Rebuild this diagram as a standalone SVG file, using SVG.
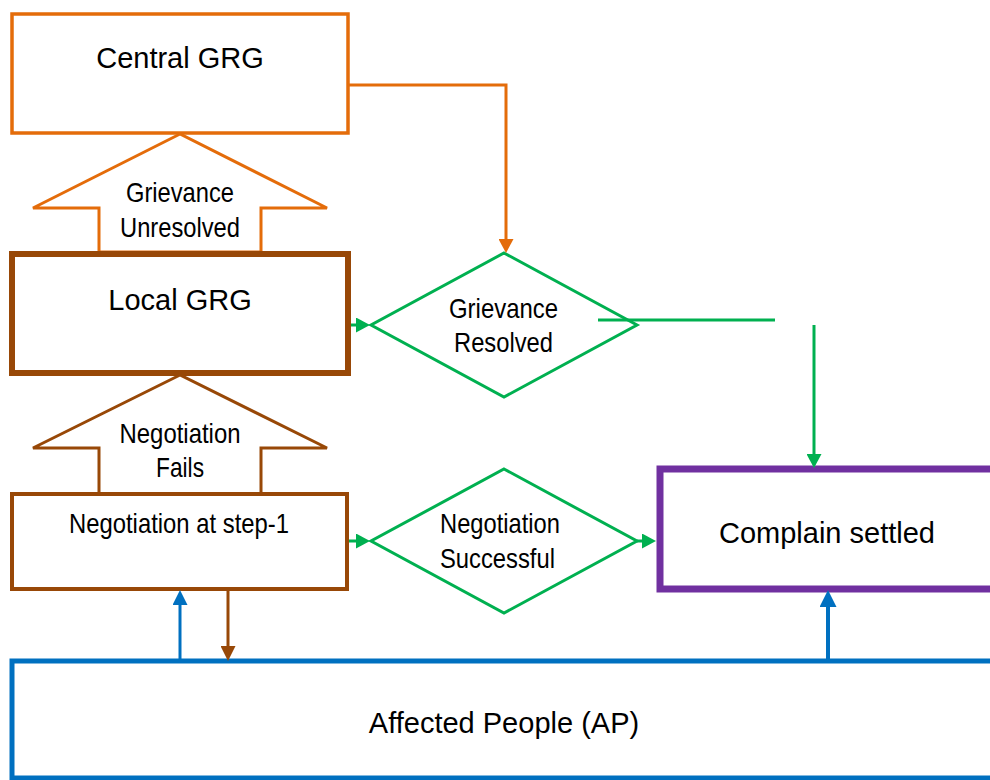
<svg xmlns="http://www.w3.org/2000/svg" width="990" height="780" viewBox="0 0 990 780">
<defs>
<style>
.big{font-family:"Liberation Sans",Arial,sans-serif;font-size:29px;fill:#000;text-anchor:middle}
.nar{font-family:"Liberation Sans",Arial,sans-serif;font-size:28px;fill:#000;text-anchor:middle}
.box{fill:#fff}
.ln{fill:none}
</style>
<marker id="mG" markerUnits="userSpaceOnUse" markerWidth="14" markerHeight="15" refX="4" refY="7.5" orient="auto" viewBox="0 0 14 15"><path d="M0,0 L14,7.5 L0,15 z" fill="#00B050"/></marker>
<marker id="mO" markerUnits="userSpaceOnUse" markerWidth="14" markerHeight="15" refX="4" refY="7.5" orient="auto" viewBox="0 0 14 15"><path d="M0,0 L14,7.5 L0,15 z" fill="#E46C0A"/></marker>
<marker id="mBr" markerUnits="userSpaceOnUse" markerWidth="15" markerHeight="15" refX="4" refY="7.5" orient="auto" viewBox="0 0 15 15"><path d="M0,0 L15,7.5 L0,15 z" fill="#984807"/></marker>
<marker id="mB" markerUnits="userSpaceOnUse" markerWidth="15" markerHeight="15" refX="4" refY="7.5" orient="auto" viewBox="0 0 15 15"><path d="M0,0 L15,7.5 L0,15 z" fill="#0070C0"/></marker>
<marker id="mB2" markerUnits="userSpaceOnUse" markerWidth="17" markerHeight="17" refX="6" refY="8.5" orient="auto" viewBox="0 0 17 17"><path d="M0,0 L17,8.5 L0,17 z" fill="#0070C0"/></marker>
</defs>

<g id="arrow-unresolved">
<polygon class="box" points="180,134 33,208 99,208 99,252 261,252 261,208 327,208" stroke="#E46C0A" stroke-width="3"/>
<text class="nar" x="180" y="202" textLength="108" lengthAdjust="spacingAndGlyphs">Grievance</text>
<text class="nar" x="180" y="237" textLength="120" lengthAdjust="spacingAndGlyphs">Unresolved</text>
</g>

<g id="arrow-fails">
<polygon class="box" points="180,375 33,448 99,448 99,494 261,494 261,448 327,448" stroke="#984807" stroke-width="3"/>
<text class="nar" x="180" y="443" textLength="121" lengthAdjust="spacingAndGlyphs">Negotiation</text>
<text class="nar" x="180" y="477" textLength="48" lengthAdjust="spacingAndGlyphs">Fails</text>
</g>

<g id="central-grg">
<rect class="box" x="12" y="14" width="336" height="119" stroke="#E46C0A" stroke-width="3.5"/>
<text class="big" x="180" y="68">Central GRG</text>
</g>

<g id="local-grg">
<rect class="box" x="12" y="254" width="336" height="119" stroke="#984807" stroke-width="6"/>
<text class="big" x="180" y="310">Local GRG</text>
</g>

<g id="negotiation-step1">
<rect class="box" x="12" y="494" width="335" height="95" stroke="#984807" stroke-width="4"/>
<text class="nar" x="179" y="533" textLength="220" lengthAdjust="spacingAndGlyphs">Negotiation at step-1</text>
</g>

<g id="grievance-resolved">
<polygon class="box" points="504,253 637,325 504,397 371,325" stroke="#00B050" stroke-width="3"/>
<text class="nar" x="503.5" y="318" textLength="109" lengthAdjust="spacingAndGlyphs">Grievance</text>
<text class="nar" x="503.5" y="352" textLength="99" lengthAdjust="spacingAndGlyphs">Resolved</text>
</g>

<g id="negotiation-successful">
<polygon class="box" points="504,469 637,541 504,613 371,541" stroke="#00B050" stroke-width="3"/>
<text class="nar" x="500" y="533" textLength="120" lengthAdjust="spacingAndGlyphs">Negotiation</text>
<text class="nar" x="497.5" y="568" textLength="115" lengthAdjust="spacingAndGlyphs">Successful</text>
</g>

<g id="complain-settled">
<rect class="box" x="660" y="469" width="400" height="120" stroke="#7030A0" stroke-width="7"/>
<text class="big" x="827" y="543">Complain settled</text>
</g>

<g id="affected-people">
<rect class="box" x="12" y="661" width="1000" height="117" stroke="#0070C0" stroke-width="5"/>
<text class="big" x="504" y="733">Affected People (AP)</text>
</g>

<g id="connectors">
<path class="ln" d="M349,85 H506 V243" stroke="#E46C0A" stroke-width="3" marker-end="url(#mO)"/>
<path class="ln" d="M351,325 H360" stroke="#00B050" stroke-width="3" marker-end="url(#mG)"/>
<path class="ln" d="M598,320 H775" stroke="#00B050" stroke-width="3"/>
<path class="ln" d="M814,325 V458" stroke="#00B050" stroke-width="3" marker-end="url(#mG)"/>
<path class="ln" d="M349,541 H360" stroke="#00B050" stroke-width="3" marker-end="url(#mG)"/>
<path class="ln" d="M637,541 H646" stroke="#00B050" stroke-width="3" marker-end="url(#mG)"/>
<path class="ln" d="M180,659 V601" stroke="#0070C0" stroke-width="3" marker-end="url(#mB)"/>
<path class="ln" d="M228,591 V650" stroke="#984807" stroke-width="3" marker-end="url(#mBr)"/>
<path class="ln" d="M828,659 V601" stroke="#0070C0" stroke-width="4" marker-end="url(#mB2)"/>
</g>
</svg>
